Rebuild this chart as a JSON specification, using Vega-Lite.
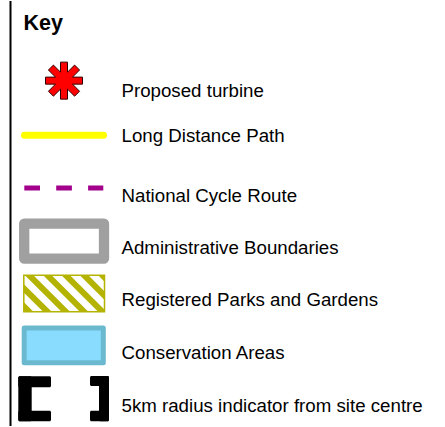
{
  "$schema": "https://vega.github.io/schema/vega-lite/v6.json",
  "width": 445,
  "height": 427,
  "padding": 0,
  "autosize": {"type": "fit", "contains": "padding"},
  "background": "#ffffff",
  "config": {"view": {"stroke": null}},
  "encoding": {
    "x": {"field": "x", "type": "quantitative", "scale": {"domain": [0, 445], "nice": false, "zero": false}, "axis": null},
    "y": {"field": "y", "type": "quantitative", "scale": {"domain": [0, 427], "nice": false, "zero": false, "reverse": true}, "axis": null}
  },
  "layer": [
    {
      "data": {"values": [{"x": 10.5, "y": 0, "y2": 427}]},
      "mark": {"type": "rule", "stroke": "#000000", "strokeWidth": 2},
      "encoding": {"y2": {"field": "y2"}}
    },
    {
      "data": {"values": [{"label": "Key", "x": 23.5, "y": 29.5}]},
      "mark": {"type": "text", "align": "left", "baseline": "alphabetic", "font": "Liberation Sans", "fontWeight": "bold", "fontSize": 21.5, "fill": "#000000"},
      "encoding": {"text": {"field": "label"}}
    },
    {
      "data": {"values": [
        {"label": "Proposed turbine", "x": 121.5, "y": 96},
        {"label": "Long Distance Path", "x": 121.5, "y": 141.7},
        {"label": "National Cycle Route", "x": 121.5, "y": 201.7},
        {"label": "Administrative Boundaries", "x": 121.5, "y": 254.3},
        {"label": "Registered Parks and Gardens", "x": 121.5, "y": 306},
        {"label": "Conservation Areas", "x": 121.5, "y": 359.3},
        {"label": "5km radius indicator from site centre", "x": 121.5, "y": 413.3}
      ]},
      "mark": {"type": "text", "align": "left", "baseline": "alphabetic", "font": "Liberation Sans", "fontSize": 18.7, "fill": "#000000"},
      "encoding": {"text": {"field": "label"}}
    },
    {
      "data": {"values": [{"x": 64, "y": 80}]},
      "mark": {
        "type": "point",
        "shape": "M1,-0.19L1,0.19L0.459,0.19L0.841,0.573L0.573,0.841L0.19,0.459L0.19,1L-0.19,1L-0.19,0.459L-0.573,0.841L-0.841,0.573L-0.459,0.19L-1,0.19L-1,-0.19L-0.459,-0.19L-0.841,-0.573L-0.573,-0.841L-0.19,-0.459L-0.19,-1L0.19,-1L0.19,-0.459L0.573,-0.841L0.841,-0.573L0.459,-0.19Z",
        "size": 1369,
        "filled": true,
        "fill": "#ff0000",
        "stroke": "#300000",
        "strokeWidth": 1,
        "opacity": 1
      }
    },
    {
      "data": {"values": [{"x": 24.5, "x2": 103.5, "y": 135}]},
      "mark": {"type": "rule", "stroke": "#ffff00", "strokeWidth": 7, "strokeCap": "round"},
      "encoding": {"x2": {"field": "x2"}}
    },
    {
      "data": {"values": [{"x": 24.3, "x2": 103.3, "y": 188}]},
      "mark": {"type": "rule", "stroke": "#a3008c", "strokeWidth": 5, "strokeDash": [15.7, 16.2]},
      "encoding": {"x2": {"field": "x2"}}
    },
    {
      "data": {"values": [{"x": 24.2, "x2": 104, "y": 223.6, "y2": 258.8}]},
      "mark": {"type": "rect", "fill": "#ffffff", "stroke": "#a0a0a0", "strokeWidth": 10.3, "strokeJoin": "round"},
      "encoding": {"x2": {"field": "x2"}, "y2": {"field": "y2"}}
    },
    {
      "data": {"values": [
        {"x": 21.3, "y": 304.4, "x2": 31.6, "y2": 314.7},
        {"x": 21.3, "y": 286.1, "x2": 49.9, "y2": 314.7},
        {"x": 26.5, "y": 273, "x2": 68.2, "y2": 314.7},
        {"x": 44.8, "y": 273, "x2": 86.5, "y2": 314.7},
        {"x": 63.1, "y": 273, "x2": 104.8, "y2": 314.7},
        {"x": 81.4, "y": 273, "x2": 107, "y2": 298.6},
        {"x": 99.7, "y": 273, "x2": 107, "y2": 280.3}
      ]},
      "mark": {"type": "rule", "stroke": "#b3b300", "strokeWidth": 6},
      "encoding": {"x2": {"field": "x2"}, "y2": {"field": "y2"}}
    },
    {
      "data": {"values": [{"x": 20.8, "x2": 107.5, "y": 272.5, "y2": 315.2}]},
      "mark": {"type": "rect", "fill": null, "fillOpacity": 0, "stroke": "#ffffff", "strokeWidth": 6},
      "encoding": {"x2": {"field": "x2"}, "y2": {"field": "y2"}}
    },
    {
      "data": {"values": [{"x": 23.8, "x2": 104.5, "y": 275.5, "y2": 312.2}]},
      "mark": {"type": "rect", "fill": null, "fillOpacity": 0, "stroke": "#b3b300", "strokeWidth": 1.5},
      "encoding": {"x2": {"field": "x2"}, "y2": {"field": "y2"}}
    },
    {
      "data": {"values": [{"x": 24.2, "x2": 103.3, "y": 328.5, "y2": 363.5}]},
      "mark": {"type": "rect", "fill": "#8adcff", "stroke": "#6ab9cf", "strokeWidth": 5, "strokeJoin": "round"},
      "encoding": {"x2": {"field": "x2"}, "y2": {"field": "y2"}}
    },
    {
      "data": {"values": [
        {"x": 18.3, "x2": 31.7, "y": 377, "y2": 422.3},
        {"x": 18.3, "x2": 51, "y": 377, "y2": 388},
        {"x": 18.3, "x2": 51, "y": 411.7, "y2": 422.3},
        {"x": 90, "x2": 109, "y": 376.7, "y2": 386.7},
        {"x": 99, "x2": 109, "y": 376.7, "y2": 422.3},
        {"x": 90, "x2": 109, "y": 411.7, "y2": 422.3}
      ]},
      "mark": {"type": "rect", "fill": "#000000", "cornerRadius": 1.5},
      "encoding": {"x2": {"field": "x2"}, "y2": {"field": "y2"}}
    }
  ]
}
